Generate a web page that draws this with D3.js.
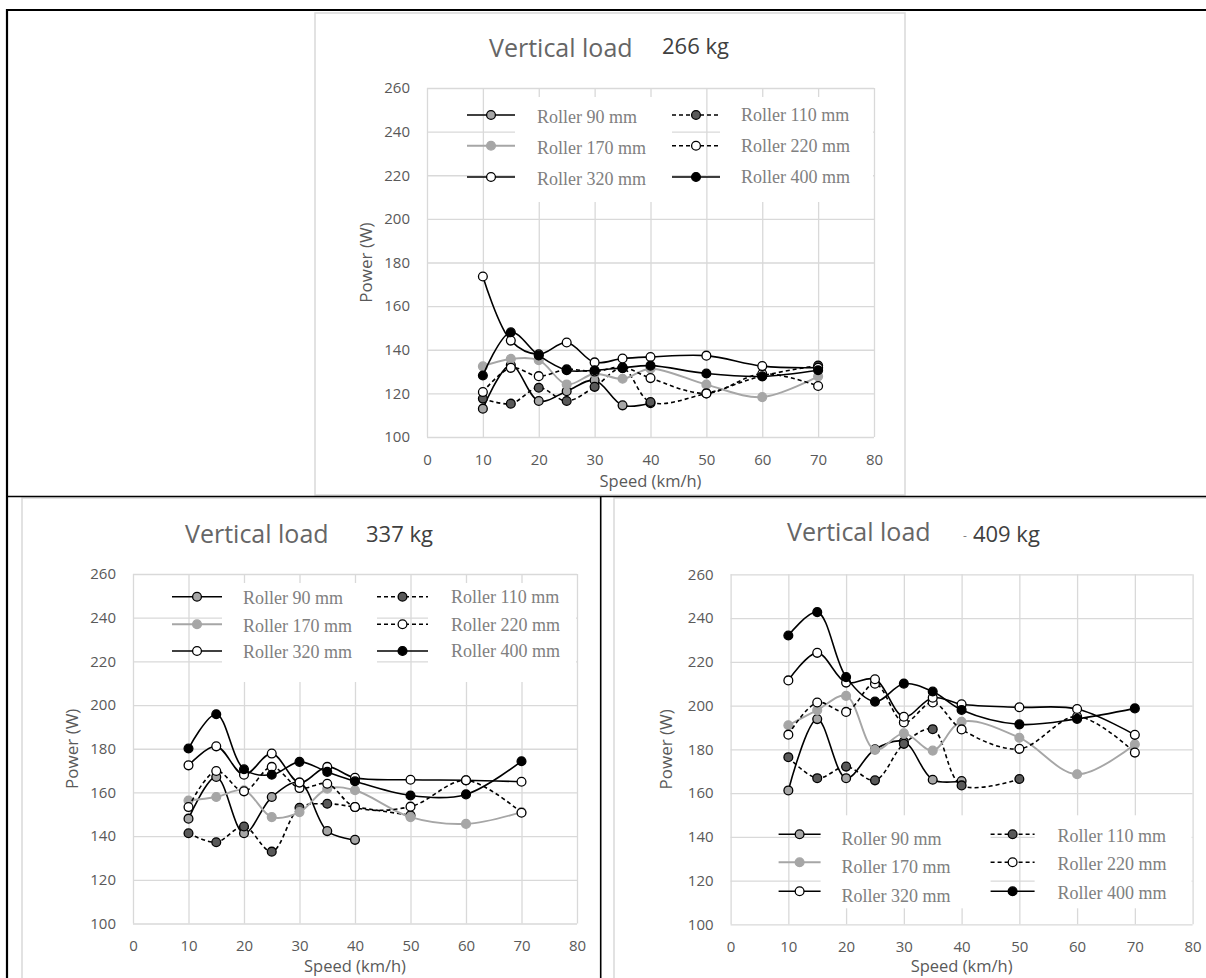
<!DOCTYPE html>
<html>
<head>
<meta charset="utf-8">
<script src="https://cdn.jsdelivr.net/npm/d3@7"></script>
<style>
body { margin: 0; background: #fff; }
</style>
</head>
<body>
<svg id="chart" width="1206" height="978"></svg>
<script>

//****************************************************************************************************************************//
// Data

var speeds = [10, 15, 20, 25, 30, 35, 40, 50, 60, 70];
var xTicks = [0, 10, 20, 30, 40, 50, 60, 70, 80];
var yTicks = [100, 120, 140, 160, 180, 200, 220, 240, 260];
var seriesNames = ["Roller 90 mm", "Roller 110 mm", "Roller 170 mm", "Roller 220 mm", "Roller 320 mm", "Roller 400 mm"];
var loads = ["266 kg", "337 kg", "409 kg"];

// Vertical load 266 kg
var r90_266  = [113, 133, 116.5, 121, 126, 114.5, 115.5];
var r110_266 = [117.6, 115.3, 122.6, 116.5, 123, 131.5, 116, 120, 128, 132.8];
var r170_266 = [132.4, 135.8, 135.2, 124.1, 129, 126.7, 131.3, 124, 118.3, 127.8];
var r220_266 = [120.6, 131.7, 127.9, 131, 130, 132, 127, 120, 129, 123.4];
var r320_266 = [173.6, 144.2, 137.9, 143.3, 134.2, 136, 136.7, 137.3, 132.5, 131.8];
var r400_266 = [128.2, 148, 137.4, 130.6, 130.6, 131.7, 132.7, 129.1, 127.8, 130.6];

// Vertical load 337 kg
var r90_337  = [148, 167.1, 141.3, 157.9, 164.5, 142.3, 138.3];
var r110_337 = [141.3, 137.2, 144.4, 132.9, 153, 154.8, 153.3, 149.5];
var r170_337 = [156.3, 157.9, 161, 148.7, 151, 161.7, 161, 148.7, 145.6, 151];
var r220_337 = [153.3, 169.8, 160.5, 171.7, 162, 164, 153.3, 153.5, 165.5, 150.7];
var r320_337 = [172.4, 181.1, 168.1, 177.8, 164.5, 171.7, 166.7, 165.8, 165.6, 164.9];
var r400_337 = [180.1, 195.8, 170.6, 168.1, 174, 169.4, 165.1, 158.6, 159.1, 174.3];

// Vertical load 409 kg
var r90_409  = [161.2, 193.8, 166.8, 180, 183.5, 166.1, 165.5];
var r110_409 = [176.4, 166.8, 172.1, 165.8, 182.5, 189.2, 163.5, 166.4];
var r170_409 = [191, 197.9, 204.4, 179.7, 187.3, 179.4, 192.6, 185.3, 168.6, 182.3];
var r220_409 = [186.7, 201.4, 197.1, 210, 192.3, 201.4, 189.1, 180.2, 195, 178.5];
var r320_409 = [211.5, 224.1, 210.5, 212, 194.9, 203.6, 200.6, 199.2, 198.4, 186.6];
var r400_409 = [232, 242.7, 213, 201.8, 210, 206.4, 198, 191.4, 193.9, 198.7];

//****************************************************************************************************************************//
// Styles

var sansFont = "'Open Sans', 'DejaVu Sans', sans-serif";
var serifFont = "'Liberation Serif', 'Times New Roman', serif";
var gridColor = "#d9d9d9";

var seriesStyle = [
	{ line : "#000", dash : null,  fill : "#a6a6a6", stroke : "#000" },
	{ line : "#000", dash : "4,3", fill : "#595959", stroke : "#000" },
	{ line : "#a6a6a6", dash : null, fill : "#a6a6a6", stroke : "#a6a6a6" },
	{ line : "#000", dash : "4,3", fill : "#fff", stroke : "#000" },
	{ line : "#000", dash : null,  fill : "#fff", stroke : "#000" },
	{ line : "#000", dash : null,  fill : "#000", stroke : "#000" }
];
var legendOrder = [[0, 2, 4], [1, 3, 5]];

var charts = [
	{ pl : 427, pr : 874, pt : 88, pb : 437, titleX : 489, titleY : 56.5, kgX : 662, kgY : 53.5, kgText : loads[0],
	  speedDy : 50, powerDx : -61,
	  series : [r90_266, r110_266, r170_266, r220_266, r320_266, r400_266],
	  rows : [27, 57.7, 89], textDy : [1.5, 0], sym : [[40, 88, 110], [245, 293, 314]], box : [9, 114] },
	{ pl : 133, pr : 577, pt : 574, pb : 923.5, titleX : 185, titleY : 543.3, kgX : 366, kgY : 541.7, kgText : loads[1],
	  speedDy : 48, powerDx : -61,
	  series : [r90_337, r110_337, r170_337, r220_337, r320_337, r400_337],
	  rows : [22.7, 50.3, 77], textDy : [1, 0], sym : [[39, 89, 110], [244, 295, 318]], box : [9, 108] },
	{ pl : 730.6, pr : 1192.6, pt : 574.3, pb : 924.3, titleX : 787, titleY : 541, kgX : 973, kgY : 541.7, kgText : loads[2], dash : true,
	  speedDy : 48, powerDx : -64.6,
	  series : [r90_409, r110_409, r170_409, r220_409, r320_409, r400_409],
	  rows : [260, 288, 317], textDy : [4, 1.5], sym : [[48, 90, 111], [260, 304, 327]], box : [241, 334] }
];

var svg = d3.select("#chart");
svg.append("rect").attr("width", 1206).attr("height", 978).attr("fill", "#fff");

//****************************************************************************************************************************//
// Frames

// chart borders (light grey)
svg.append("rect").attr("x", 315).attr("y", 13).attr("width", 590).attr("height", 482)
	.attr("fill", "none").attr("stroke", gridColor).attr("stroke-width", 1.5);
svg.append("path").attr("d", "M22,978V498H600").attr("fill", "none").attr("stroke", gridColor).attr("stroke-width", 1.5);
svg.append("path").attr("d", "M614,978V498H1206").attr("fill", "none").attr("stroke", gridColor).attr("stroke-width", 1.5);

// table borders (black)
svg.append("path").attr("d", "M7,978V10H1206").attr("fill", "none").attr("stroke", "#000").attr("stroke-width", 2.2);
svg.append("path").attr("d", "M7,496.5H1206").attr("fill", "none").attr("stroke", "#000").attr("stroke-width", 1.6);
svg.append("path").attr("d", "M600.7,497V978").attr("fill", "none").attr("stroke", "#000").attr("stroke-width", 1.6);

//****************************************************************************************************************************//
// Charts

charts.forEach(function(c){

	var w = c.pr - c.pl, h = c.pb - c.pt;
	var g = svg.append("g").attr("transform", "translate(" + c.pl + "," + c.pt + ")");

	var x = d3.scaleLinear().domain([0, 80]).range([0, w]);
	var y = d3.scaleLinear().domain([100, 260]).range([h, 0]);

	var gx = g.append("g").attr("transform", "translate(0," + h + ")")
				.call(d3.axisBottom(x).tickValues(xTicks).tickSize(-h).tickPadding(17));
	var gy = g.append("g")
				.call(d3.axisLeft(y).tickValues(yTicks).tickSize(-w).tickPadding(17));

	[gx, gy].forEach(function(a){
		a.select(".domain").remove();
		a.attr("font-family", sansFont).attr("font-size", 15);
		a.selectAll("line").attr("stroke", gridColor).attr("stroke-width", 1.3);
		a.selectAll("text").attr("fill", "#595959");
	});

	// axis titles
	g.append("text")
		.attr("x", w / 2).attr("y", h + c.speedDy)
		.attr("text-anchor", "middle")
		.style("font-family", sansFont).style("font-size", "16.5px").attr("fill", "#595959")
		.text("Speed (km/h)");

	g.append("text")
		.attr("transform", "translate(" + c.powerDx + "," + (h / 2) + ") rotate(-90)")
		.attr("text-anchor", "middle").attr("dy", "0.35em")
		.style("font-family", sansFont).style("font-size", "17px").attr("fill", "#595959")
		.text("Power (W)");

	// title
	svg.append("text")
		.attr("x", c.titleX).attr("y", c.titleY)
		.style("font-family", sansFont).style("font-size", "25px").attr("fill", "#666")
		.text("Vertical load");

	var kg = svg.append("text")
		.attr("x", c.kgX).attr("y", c.kgY)
		.style("font-family", sansFont).style("font-size", "22px").attr("fill", "#404040");
	if (c.dash) {
		kg.attr("x", c.kgX - 10);
		kg.append("tspan").style("font-size", "12px").attr("fill", "#808080").attr("dy", -2).text("-");
		kg.append("tspan").attr("dy", 2).attr("dx", 6).text(c.kgText);
	} else {
		kg.text(c.kgText);
	}

	// series
	var line = d3.line()
				.x(function(d){ return x(d.s); })
				.y(function(d){ return y(d.v); })
				.curve(d3.curveCatmullRom.alpha(0.5));

	c.series.forEach(function(vals, i){
		var st = seriesStyle[i];
		var pts = vals.map(function(v, k){ return { s : speeds[k], v : v }; });

		g.append("path")
			.datum(pts)
			.attr("d", line)
			.attr("fill", "none")
			.attr("stroke", st.line)
			.attr("stroke-width", i === 2 ? 1.9 : 1.6)
			.attr("stroke-dasharray", st.dash);

		g.selectAll(".m" + i)
			.data(pts)
			.enter().append("circle")
			.attr("cx", function(d){ return x(d.s); })
			.attr("cy", function(d){ return y(d.v); })
			.attr("r", 4.4)
			.attr("fill", st.fill)
			.attr("stroke", st.stroke)
			.attr("stroke-width", 1.3);
	});

	// legend
	var lg = g.append("g");
	lg.append("rect").attr("x", c.sym[0][1]).attr("y", c.box[0])
		.attr("width", c.sym[1][0] - c.sym[0][1]).attr("height", c.box[1] - c.box[0]).attr("fill", "#fff");
	lg.append("rect").attr("x", c.sym[1][1]).attr("y", c.box[0])
		.attr("width", w - 1 - c.sym[1][1]).attr("height", c.box[1] - c.box[0]).attr("fill", "#fff");

	legendOrder.forEach(function(col, ci){
		var s = c.sym[ci];
		col.forEach(function(si, ri){
			var st = seriesStyle[si];
			var ry = c.rows[ri];
			lg.append("line")
				.attr("x1", s[0]).attr("x2", s[1]).attr("y1", ry).attr("y2", ry)
				.attr("stroke", st.line).attr("stroke-width", si === 2 ? 1.9 : 1.6)
				.attr("stroke-dasharray", st.dash);
			lg.append("circle")
				.attr("cx", (s[0] + s[1]) / 2).attr("cy", ry).attr("r", 4.4)
				.attr("fill", st.fill).attr("stroke", st.stroke).attr("stroke-width", 1.3);
			lg.append("text")
				.attr("x", s[2]).attr("y", ry + c.textDy[ci]).attr("dy", "0.35em")
				.style("font-family", serifFont).style("font-size", "18px").attr("fill", "#808080")
				.text(seriesNames[si]);
		});
	});
});

</script>
</body>
</html>
